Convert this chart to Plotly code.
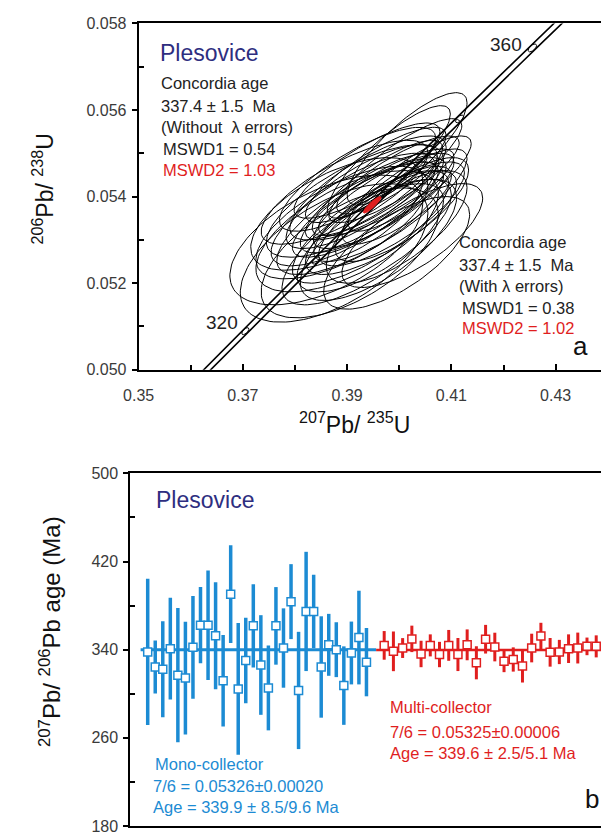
import numpy as np
import plotly.graph_objects as go

# ---------------- data ----------------
# Decay constants (1/yr) for the U-Pb concordia curve
LAMBDA_238 = 1.55125e-10
LAMBDA_235 = 9.8485e-10
LAMBDA_235_ERR = 0.0016   # relative, sets the half-width of the concordia band
LAMBDA_238_ERR = 0.0011

marker_ages_ma = [320, 330, 340, 350, 360]
labelled_ages_ma = [320, 360]

# Spot analyses: ratios, 2-sigma absolute errors and error correlations
pb207_u235 = [0.3950, 0.3925, 0.3975, 0.3900, 0.3990, 0.3940, 0.3965, 0.3880, 0.4010,
              0.3930, 0.3955, 0.3915, 0.3985, 0.3860, 0.3945, 0.4000, 0.3935, 0.3970,
              0.3895, 0.3960, 0.4020, 0.3920, 0.3948, 0.3905, 0.3980, 0.3938, 0.3968,
              0.3890, 0.4005, 0.3952, 0.3928, 0.3875, 0.3995, 0.3958, 0.3912, 0.4015,
              0.4025, 0.3995]
pb207_u235_err = [0.0140, 0.0160, 0.0130, 0.0175, 0.0125, 0.0150, 0.0145, 0.0165, 0.0120,
                  0.0155, 0.0135, 0.0170, 0.0140, 0.0185, 0.0150, 0.0120, 0.0140, 0.0135,
                  0.0160, 0.0150, 0.0118, 0.0150, 0.0128, 0.0170, 0.0118, 0.0140, 0.0132,
                  0.0165, 0.0128, 0.0148, 0.0145, 0.0180, 0.0135, 0.0125, 0.0158, 0.0115,
                  0.0135, 0.0140]
pb206_u238 = [0.0538, 0.0535, 0.0541, 0.0532, 0.0544, 0.0542, 0.0534, 0.0536, 0.0540,
              0.0529, 0.0545, 0.0539, 0.0536, 0.0530, 0.0533, 0.0547, 0.0537, 0.0539,
              0.0541, 0.0530, 0.0543, 0.0544, 0.0540, 0.0527, 0.0548, 0.0546, 0.0536,
              0.0534, 0.0537, 0.0531, 0.0540, 0.0527, 0.0533, 0.0542, 0.0537, 0.0551,
              0.0531, 0.0527]
pb206_u238_err = [0.0011, 0.0013, 0.0010, 0.0014, 0.0010, 0.0012, 0.0012, 0.0013, 0.0011,
                  0.0014, 0.0011, 0.0013, 0.0012, 0.0015, 0.0013, 0.0011, 0.0011, 0.0011,
                  0.0012, 0.0014, 0.0011, 0.0012, 0.0010, 0.0015, 0.0013, 0.0011, 0.0011,
                  0.0013, 0.0012, 0.0013, 0.0012, 0.0016, 0.0013, 0.0011, 0.0013, 0.0013,
                  0.0012, 0.0013]
err_rho = [0.80, 0.75, 0.82, 0.62, 0.84, 0.78, 0.76, 0.60, 0.80, 0.72, 0.83, 0.73, 0.79,
           0.55, 0.77, 0.85, 0.80, 0.81, 0.76, 0.70, 0.84, 0.79, 0.82, 0.60, 0.85, 0.82,
           0.80, 0.66, 0.76, 0.72, 0.78, 0.57, 0.70, 0.84, 0.76, 0.82, 0.72, 0.68]

# Concordia age ellipse
conc_pb207_u235 = 0.3948
conc_pb207_u235_err = 0.0017
conc_pb206_u238 = 0.05381
conc_pb206_u238_err = 0.00019
conc_rho = 0.90

# 207Pb/206Pb ages (Ma) with 2-sigma errors
mono_age = [338.0, 324.3, 322.2, 340.9, 316.9, 314.2, 342.1, 362.2, 362.2, 352.7,
            311.9, 390.4, 304.4, 330.2, 361.6, 326.1, 305.3, 361.6, 341.5, 383.6,
            303.0, 374.7, 374.7, 324.3, 344.4, 340.0, 307.4, 337.0, 351.0, 328.7]
mono_err = [66.4, 24.0, 43.6, 46.2, 61.0, 51.1, 46.7, 34.6, 49.6, 48.5,
            41.5, 44.4, 59.7, 38.8, 37.7, 45.2, 38.5, 35.2, 36.0, 34.0,
            53.2, 54.1, 33.3, 46.0, 28.1, 24.9, 35.6, 28.5, 42.5, 31.0]
mono_mean = 339.9

multi_age = [343.9, 338.5, 341.5, 349.8, 336.1, 343.9, 335.6, 343.9, 335.6, 344.4,
             328.1, 349.5, 342.4, 329.6, 331.1, 325.2, 341.5, 352.4, 337.6, 337.9,
             340.9, 341.5, 343.0, 343.0]
multi_err = [13, 18, 9, 12, 12, 10, 11.5, 14, 15, 14,
             15, 13, 13, 10, 11, 15, 13, 12, 13, 11,
             13, 14, 8, 10]
multi_mean = 339.6

# ---------------- styling ----------------
W, H = 601, 836
FONT = "Liberation Sans, Arial, sans-serif"
BLUE = "#1c8bd3"
RED = "#e01e1e"
NAVY = "#2e2e80"
TXT = "#222222"


def fx(p):
    return p / W


def fy(p):
    return 1 - p / H


def ellipse(cx, cy, sx, sy, rho, n=120):
    t = np.linspace(0, 2 * np.pi, n)
    x = cx + sx * np.cos(t)
    y = cy + sy * (rho * np.cos(t) + np.sqrt(1 - rho ** 2) * np.sin(t))
    return x, y


fig = go.Figure()

# ---- concordia band ----
t = np.linspace(280e6, 380e6, 400)
r68 = np.exp(LAMBDA_238 * t) - 1
r75 = np.exp(LAMBDA_235 * t) - 1
d75 = t * np.exp(LAMBDA_235 * t) * LAMBDA_235 * LAMBDA_235_ERR
for sgn in (-1, 1):
    fig.add_trace(go.Scatter(x=r75 + sgn * d75, y=r68, mode="lines",
                             line=dict(color="black", width=1.6),
                             hoverinfo="skip", showlegend=False, xaxis="x", yaxis="y"))

# small age-marker ellipses on the band
mx, my = [], []
for a in marker_ages_ma:
    ta = a * 1e6
    c75 = np.exp(LAMBDA_235 * ta) - 1
    c68 = np.exp(LAMBDA_238 * ta) - 1
    e75 = ta * np.exp(LAMBDA_235 * ta) * LAMBDA_235 * LAMBDA_235_ERR
    e68 = ta * np.exp(LAMBDA_238 * ta) * LAMBDA_238 * LAMBDA_238_ERR
    ex, ey = ellipse(c75, c68, e75, e68 * 1.4, 0.6, 40)
    mx += list(ex) + [None]
    my += list(ey) + [None]
fig.add_trace(go.Scatter(x=mx, y=my, mode="lines", line=dict(color="black", width=1),
                         hoverinfo="skip", showlegend=False, xaxis="x", yaxis="y"))

# ---- spot ellipses ----
ex_all, ey_all = [], []
for cx, sx, cy, sy, r in zip(pb207_u235, pb207_u235_err, pb206_u238, pb206_u238_err, err_rho):
    ex, ey = ellipse(cx, cy, sx, sy, r)
    ex_all += list(ex) + [None]
    ey_all += list(ey) + [None]
fig.add_trace(go.Scatter(x=ex_all, y=ey_all, mode="lines",
                         line=dict(color="black", width=1),
                         hoverinfo="skip", showlegend=False, xaxis="x", yaxis="y"))

# ---- concordia age ellipse ----
cx_, cy_ = ellipse(conc_pb207_u235, conc_pb206_u238, conc_pb207_u235_err,
                   conc_pb206_u238_err, conc_rho)
fig.add_trace(go.Scatter(x=cx_, y=cy_, mode="lines", fill="toself", fillcolor=RED,
                         line=dict(color=RED, width=1), hoverinfo="skip",
                         showlegend=False, xaxis="x", yaxis="y"))

# ---- lower panel ----
mono_x = list(range(1, len(mono_age) + 1))
MULTI_START, MULTI_STEP = 32.35, 1.222
multi_x = [MULTI_START + MULTI_STEP * i for i in range(len(multi_age))]
split_x = 31.28

fig.add_trace(go.Scatter(x=[0.06, split_x], y=[mono_mean, mono_mean], mode="lines",
                         line=dict(color=BLUE, width=3), hoverinfo="skip",
                         showlegend=False, xaxis="x2", yaxis="y2"))
fig.add_trace(go.Scatter(x=[split_x, 63], y=[multi_mean, multi_mean], mode="lines",
                         line=dict(color=RED, width=2.5), hoverinfo="skip",
                         showlegend=False, xaxis="x2", yaxis="y2"))

fig.add_trace(go.Scatter(
    x=mono_x, y=mono_age, mode="markers",
    error_y=dict(type="data", array=mono_err, color=BLUE, thickness=3.5, width=0),
    marker=dict(symbol="square", size=8, color="white", line=dict(color=BLUE, width=1.5)),
    showlegend=False, xaxis="x2", yaxis="y2"))
fig.add_trace(go.Scatter(
    x=multi_x, y=multi_age, mode="markers",
    error_y=dict(type="data", array=multi_err, color=RED, thickness=3, width=0),
    marker=dict(symbol="square", size=8, color="white", line=dict(color=RED, width=1.5)),
    showlegend=False, xaxis="x2", yaxis="y2"))

# ---------------- axes ----------------
TOP_X0_PX, TOP_X_SCALE = 126, 5355.0        # pixel of 0.35, pixels per unit
BOT_X0_PX, BOT_STEP_PX = 135.3, 7.75
tickfont = dict(family=FONT, size=16, color="#3a3a3a")

axis_common = dict(showgrid=False, zeroline=False, showline=True, linecolor="black",
                   linewidth=2, tickcolor="black", tickwidth=1.5, tickfont=tickfont)

fig.update_layout(
    width=W, height=H,
    margin=dict(l=0, r=0, t=0, b=0),
    paper_bgcolor="white", plot_bgcolor="white",
    font=dict(family=FONT, color=TXT),
    xaxis=dict(axis_common, domain=[fx(TOP_X0_PX), 1], anchor="y",
               range=[0.35, 0.35 + (W - TOP_X0_PX) / TOP_X_SCALE],
               tickmode="array", tickvals=[0.35, 0.37, 0.39, 0.41, 0.43],
               ticktext=["0.35", "0.37", "0.39", "0.41", "0.43"],
               ticks="inside", ticklen=6, mirror=True, ticklabelstandoff=10,
               minor=dict(ticks="inside", ticklen=5, tickvals=[0.36, 0.38, 0.40, 0.42],
                          tickcolor="black", tickwidth=1.5)),
    yaxis=dict(axis_common, domain=[fy(369.3), fy(15.7)], anchor="x",
               range=[0.050, 0.058], tickmode="array",
               tickvals=[0.050, 0.052, 0.054, 0.056, 0.058],
               ticktext=["0.050", "0.052", "0.054", "0.056", "0.058"],
               ticks="outside", ticklen=5, ticklabelstandoff=2,
               minor=dict(ticks="inside", ticklen=5, tickvals=[0.051, 0.053, 0.055, 0.057],
                          tickcolor="black", tickwidth=1.5)),
    xaxis2=dict(axis_common, domain=[fx(117.5), 1], anchor="y2",
                range=[1 - (BOT_X0_PX - 117.5) / BOT_STEP_PX,
                       1 + (W - BOT_X0_PX) / BOT_STEP_PX],
                tickmode="array", tickvals=[], showticklabels=False, ticks="",
                mirror=True),
    yaxis2=dict(axis_common, domain=[fy(835), fy(475)], anchor="x2",
                range=[180, 500], tickmode="array", tickvals=[180, 260, 340, 420, 500],
                ticks="outside", ticklen=5, ticklabelstandoff=2,
                minor=dict(ticks="inside", ticklen=5, tickvals=[220, 300, 380, 460],
                           tickcolor="black", tickwidth=1.5)),
)

# ---------------- text ----------------
anns = []


def ann(text, x, y, size=16.5, color=TXT, xanchor="left", yanchor="middle", angle=0):
    anns.append(dict(text=text, x=fx(x), y=fy(y), xref="paper", yref="paper",
                     xanchor=xanchor, yanchor=yanchor, showarrow=False,
                     textangle=angle, font=dict(family=FONT, size=size, color=color)))


# upper panel
ann("Plesovice", 146, 46, size=23, color=NAVY)
ann("Concordia age", 147, 77)
ann("337.4 ± 1.5  Ma", 147, 100)
ann("(Without  λ errors)", 147, 121)
ann("MSWD1 = 0.54", 149, 144)
ann("MSWD2 = 1.03", 149, 165, color=RED)
ann("Concordia age", 453, 239)
ann("337.4 ± 1.5  Ma", 453, 262)
ann("(With λ errors)", 453, 284)
ann("MSWD1 = 0.38", 456, 306)
ann("MSWD2 = 1.02", 456, 327, color=RED)
ann("a", 580, 345, size=26, color="#111111", xanchor="center")
ann("320", 212, 321, size=19, xanchor="center")
ann("360", 503, 37, size=19, xanchor="center")
ann("<sup>207</sup>Pb/ <sup>235</sup>U", 348, 424, size=23, color="#111111",
    xanchor="center")
ann("<sup>206</sup>Pb/ <sup>238</sup>U", 28, 185, size=23, color="#111111",
    xanchor="center", angle=-90)

# lower panel
ann("Plesovice", 142, 502, size=23, color=NAVY)
ann("Mono-collector", 141, 772, size=16.5, color=BLUE)
ann("7/6 = 0.05326±0.00020", 139, 794, size=16.5, color=BLUE)
ann("Age = 339.9 ± 8.5/9.6 Ma", 139, 816, size=16.5, color=BLUE)
ann("Multi-collector", 382, 714, size=16.5, color=RED)
ann("7/6 = 0.05325±0.00006", 382, 739, size=16.5, color=RED)
ann("Age = 339.6 ± 2.5/5.1 Ma", 382, 760, size=16.5, color=RED)
ann("b", 592, 807, size=26, color="#111111", xanchor="center")
ann("<sup>207</sup>Pb/ <sup>206</sup>Pb age (Ma)", 35, 637, size=24, color="#111111",
    xanchor="center", angle=-90)

fig.update_layout(annotations=anns)

fig.write_html("out.html", post_script="document.body.style.margin='0';")
